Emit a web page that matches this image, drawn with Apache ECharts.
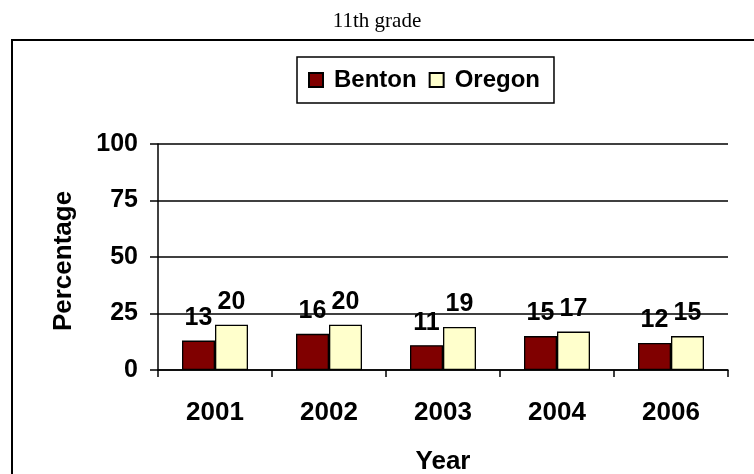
<!DOCTYPE html>
<html>
<head>
<meta charset="utf-8">
<script src="https://cdn.jsdelivr.net/npm/echarts@6/dist/echarts.min.js"></script>
<style>
  html, body { margin: 0; padding: 0; background: #ffffff; }
  #chart { width: 754px; height: 474px; }
</style>
</head>
<body>
<div id="chart"></div>
<script>
// Years shown on the category axis
const years = ['2001', '2002', '2003', '2004', '2006'];
// Percentages for each group, per year
const benton = [13, 16, 11, 15, 12];
const oregon = [20, 20, 19, 17, 15];
// Value axis range
const yMin = 0;
const yMax = 100;
const yStep = 25;

const chart = echarts.init(document.getElementById('chart'), null, { renderer: 'canvas' });

const boldFont = {
  fontFamily: 'Liberation Sans, Arial, sans-serif',
  fontWeight: 'bold',
  color: '#000'
};

function barSeries(name, data, fill) {
  return {
    name: name,
    type: 'bar',
    data: data,
    barWidth: 33,
    barGap: '0%',
    itemStyle: { color: fill, borderColor: '#000', borderWidth: 1.3 },
    label: {
      show: true,
      position: 'top',
      distance: 10,
      fontSize: 25,
      ...boldFont
    },
    emphasis: { disabled: true }
  };
}

chart.setOption({
  backgroundColor: '#ffffff',
  animation: false,
  title: {
    text: '11th grade',
    left: 'center',
    top: 6,
    textStyle: {
      fontFamily: 'Liberation Serif, Times New Roman, serif',
      fontWeight: 'normal',
      fontSize: 21,
      color: '#000'
    }
  },
  graphic: [{
    type: 'rect',
    shape: { x: 12, y: 40, width: 800, height: 500 },
    style: { fill: 'none', stroke: '#000', lineWidth: 2 },
    silent: true,
    z: -1
  }],
  legend: {
    data: ['Benton', 'Oregon'],
    left: 297,
    top: 57,
    orient: 'horizontal',
    icon: 'rect',
    itemWidth: 14,
    itemHeight: 14,
    itemGap: 12,
    padding: [9, 14, 9, 11],
    borderColor: '#000',
    borderWidth: 1.5,
    backgroundColor: '#fff',
    selectedMode: false,
    textStyle: {
      fontSize: 24,
      lineHeight: 28,
      padding: [0, 0, 0, 6],
      ...boldFont
    }
  },
  grid: {
    left: 158,
    top: 144,
    right: 26,
    bottom: 104,
    containLabel: false,
    outerBoundsMode: 'none'
  },
  xAxis: {
    type: 'category',
    data: years,
    name: 'Year',
    nameLocation: 'middle',
    nameGap: 79,
    nameTextStyle: { fontSize: 26, ...boldFont },
    axisLine: { lineStyle: { color: '#000', width: 1.5 } },
    axisTick: { show: true, length: 7, lineStyle: { color: '#000', width: 1.5 } },
    axisLabel: { margin: 30, fontSize: 26, ...boldFont },
    splitLine: { show: false }
  },
  yAxis: {
    type: 'value',
    min: yMin,
    max: yMax,
    interval: yStep,
    name: 'Percentage',
    nameLocation: 'middle',
    nameRotate: 90,
    nameGap: 81,
    nameTextStyle: { fontSize: 26, padding: [0, 8, 0, 0], ...boldFont },
    axisLine: { show: true, lineStyle: { color: '#000', width: 1.5 } },
    axisTick: { show: true, length: 8, lineStyle: { color: '#000', width: 1.5 } },
    axisLabel: { margin: 20, fontSize: 25, ...boldFont },
    splitLine: { show: true, lineStyle: { color: '#000', width: 1.5 } }
  },
  series: [
    barSeries('Benton', benton, '#800000'),
    barSeries('Oregon', oregon, '#FFFFCC')
  ]
});
</script>
</body>
</html>
